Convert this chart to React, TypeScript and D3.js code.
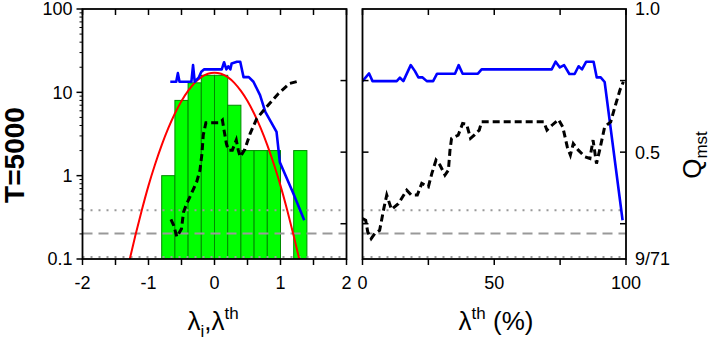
import React from 'react';
import * as d3 from 'd3';

// ---------- data ----------
const HIST_BIN_START = [-0.8, -0.6, -0.4, -0.2, 0.0, 0.2, 0.4, 0.6, 0.8, 1.0, 1.2];
const HIST_COUNTS = [1, 8, 13, 16, 16, 7, 2, 2, 2, 0, 2];
const HIST_BIN_WIDTH = 0.2;

const FIT_LAMBDA = [-1.35, -1.3, -1.2, -1.1, -1.0, -0.9, -0.8, -0.7, -0.6, -0.5, -0.4, -0.3, -0.2, -0.1, 0.0, 0.1, 0.2, 0.3, 0.4, 0.5, 0.6, 0.7, 0.8, 0.9, 1.0, 1.1, 1.2, 1.3, 1.35];
const FIT_VALUES = [0.06, 0.088, 0.19, 0.39, 0.76, 1.37, 2.33, 3.72, 5.58, 7.88, 10.4, 13.0, 15.2, 16.7, 17.2, 16.7, 15.2, 13.0, 10.4, 7.88, 5.58, 3.72, 2.33, 1.37, 0.76, 0.39, 0.19, 0.088, 0.06];

const LEFT_BLUE_LAMBDA = [-0.67, -0.58, -0.555, -0.53, -0.35, -0.325, -0.3, -0.24, -0.2, -0.16, 0.11, 0.145, 0.18, 0.21, 0.24, 0.26, 0.34, 0.39, 0.44, 0.52, 0.59, 0.69, 0.77, 0.87, 0.94, 0.99, 1.19, 1.36];
const LEFT_BLUE_Q = [0.746, 0.746, 0.776, 0.746, 0.746, 0.804, 0.746, 0.76, 0.781, 0.789, 0.789, 0.814, 0.789, 0.8, 0.789, 0.81, 0.816, 0.816, 0.762, 0.762, 0.746, 0.699, 0.641, 0.6, 0.571, 0.465, 0.358, 0.262];

const LEFT_BLACK_LAMBDA = [-0.66, -0.62, -0.57, -0.5, -0.47, -0.43, -0.35, -0.27, -0.22, -0.19, -0.17, -0.13, 0.0, 0.08, 0.12, 0.14, 0.18, 0.21, 0.27, 0.33, 0.36, 0.39, 0.46, 0.54, 0.64, 0.77, 0.97, 1.14, 1.27];
const LEFT_BLACK_Q = [0.265, 0.245, 0.204, 0.232, 0.29, 0.315, 0.355, 0.396, 0.437, 0.495, 0.56, 0.603, 0.603, 0.603, 0.612, 0.583, 0.53, 0.507, 0.507, 0.542, 0.507, 0.484, 0.51, 0.565, 0.617, 0.653, 0.705, 0.74, 0.748];

const RIGHT_BLUE_PCT = [0, 2.5, 3.8, 13, 14.2, 15.5, 18.3, 19.9, 21.2, 22.8, 24.4, 26.8, 28.3, 35.1, 36.5, 38, 43.8, 45.2, 71.8, 73.3, 74.9, 76.5, 78.5, 80.5, 82, 83.3, 84.9, 87.7, 88.9, 90.4, 91.9, 98.7];
const RIGHT_BLUE_Q = [0.748, 0.775, 0.748, 0.748, 0.76, 0.748, 0.804, 0.783, 0.761, 0.761, 0.748, 0.748, 0.774, 0.774, 0.804, 0.774, 0.774, 0.789, 0.789, 0.816, 0.796, 0.804, 0.773, 0.773, 0.8, 0.789, 0.816, 0.816, 0.761, 0.761, 0.745, 0.262];

const RIGHT_BLACK_PCT = [0, 1.2, 2, 3.3, 4.7, 6.5, 8.2, 9.2, 11, 13.6, 16.8, 18.5, 20.8, 22.5, 25, 26.3, 27.9, 29.4, 31.3, 32.6, 33.2, 33.8, 36.3, 38, 39.5, 41, 42.5, 44.3, 45.2, 68.8, 70, 71.9, 74.4, 76, 77.7, 78.9, 80, 81.9, 84.4, 86.3, 87.5, 88.8, 90, 91.9, 94.2, 95.8, 97.7, 99];
const RIGHT_BLACK_Q = [0.268, 0.262, 0.221, 0.198, 0.216, 0.227, 0.308, 0.35, 0.3, 0.32, 0.367, 0.35, 0.35, 0.391, 0.379, 0.425, 0.472, 0.455, 0.42, 0.437, 0.507, 0.548, 0.559, 0.6, 0.598, 0.548, 0.56, 0.577, 0.606, 0.606, 0.577, 0.594, 0.614, 0.588, 0.519, 0.49, 0.53, 0.507, 0.484, 0.478, 0.542, 0.46, 0.507, 0.588, 0.606, 0.658, 0.717, 0.746];

const REF_DOTTED_HI = 0.297;
const REF_DASHED = 0.2157;
const REF_DOTTED_LO = 0.134;

const LOG_TICKS = [0.1, 1, 10, 100];
const LOG_TICK_LABELS = ['0.1', '1', '10', '100'];
const LAMBDA_TICKS = [-2, -1.5, -1, -0.5, 0, 0.5, 1, 1.5, 2];
const LAMBDA_LABELS = [-2, -1, 0, 1, 2];
const PCT_TICKS = [0, 25, 50, 75, 100];
const PCT_LABELS = [0, 50, 100];
const Q_TICKS = [0.25, 0.5, 0.75];
const Q_LABEL_VALUES = [1.0, 0.5, 9 / 71];
const Q_LABEL_TEXT = ['1.0', '0.5', '9/71'];

// ---------- layout ----------
const W = 721, H = 348;
const TOP = 9, BOT = 259;
const LX0 = 82.5, LX1 = 346.5;
const RX0 = 362.5, RX1 = 626;
const FONT = 'Liberation Sans, Arial, Helvetica, sans-serif';

export default function App() {
  const xL = d3.scaleLinear().domain([-2, 2]).range([LX0, LX1]);
  const xR = d3.scaleLinear().domain([0, 100]).range([RX0, RX1]);
  const yLog = d3.scaleLog().domain([0.1, 100]).range([BOT, TOP]);
  const yQ = d3.scaleLinear().domain([9 / 71, 1]).range([BOT, TOP]);

  const fitLine = d3.line<number>()
    .x((_, i) => xL(FIT_LAMBDA[i]))
    .y((v) => yLog(v))
    .curve(d3.curveMonotoneX);
  const lineL = (xs: number[]) => d3.line<number>()
    .x((_, i) => xL(xs[i]))
    .y((v) => yQ(v));
  const lineR = (xs: number[]) => d3.line<number>()
    .x((_, i) => xR(xs[i]))
    .y((v) => yQ(v));

  const minorLog: number[] = [];
  [0.1, 1, 10].forEach((d) => {
    for (let k = 2; k <= 9; k++) minorLog.push(d * k);
  });

  const axisStroke = 1.8;
  const tickLen = 6;

  return (
    <svg width={W} height={H} style={{ position: 'absolute', left: 0, top: 0, background: '#fff' }}
      fontFamily={FONT}>
      <defs>
        <clipPath id="clipL">
          <rect x={LX0} y={TOP} width={LX1 - LX0} height={BOT - TOP} />
        </clipPath>
        <clipPath id="clipR">
          <rect x={RX0} y={TOP} width={RX1 - RX0} height={BOT - TOP} />
        </clipPath>
      </defs>

      {/* ---------- left panel ---------- */}
      <g clipPath="url(#clipL)">
        {HIST_COUNTS.map((c, i) => c > 0 ? (
          <rect key={i}
            x={xL(HIST_BIN_START[i])}
            y={yLog(c)}
            width={xL(HIST_BIN_START[i] + HIST_BIN_WIDTH) - xL(HIST_BIN_START[i])}
            height={yLog(0.1) - yLog(c)}
            fill="#00ff00" stroke="#008a00" strokeWidth={1} />
        ) : null)}
        {[REF_DOTTED_HI, REF_DOTTED_LO].map((v, i) => (
          <line key={'d' + i} x1={LX0} x2={LX1} y1={yQ(v)} y2={yQ(v)} stroke="#999" strokeWidth={2} strokeDasharray="2,6" />
        ))}
        <line x1={LX0} x2={LX1} y1={yQ(REF_DASHED)} y2={yQ(REF_DASHED)} stroke="#999" strokeWidth={2} strokeDasharray="10,6" />
        <path d={fitLine(FIT_VALUES) || ''} fill="none" stroke="#ff0000" strokeWidth={2} />
        <path d={lineL(LEFT_BLUE_LAMBDA)(LEFT_BLUE_Q) || ''} fill="none" stroke="#0000ff" strokeWidth={2.6} strokeLinejoin="round" />
        <path d={lineL(LEFT_BLACK_LAMBDA)(LEFT_BLACK_Q) || ''} fill="none" stroke="#000" strokeWidth={3} strokeDasharray="7,4" />
      </g>

      {/* ---------- right panel ---------- */}
      <g clipPath="url(#clipR)">
        {[REF_DOTTED_HI, REF_DOTTED_LO].map((v, i) => (
          <line key={'rd' + i} x1={RX0} x2={RX1} y1={yQ(v)} y2={yQ(v)} stroke="#999" strokeWidth={2} strokeDasharray="2,6" />
        ))}
        <line x1={RX0} x2={RX1} y1={yQ(REF_DASHED)} y2={yQ(REF_DASHED)} stroke="#999" strokeWidth={2} strokeDasharray="10,6" />
        <path d={lineR(RIGHT_BLUE_PCT)(RIGHT_BLUE_Q) || ''} fill="none" stroke="#0000ff" strokeWidth={2.6} strokeLinejoin="round" />
        <path d={lineR(RIGHT_BLACK_PCT)(RIGHT_BLACK_Q) || ''} fill="none" stroke="#000" strokeWidth={3} strokeDasharray="7,4" />
      </g>

      {/* ---------- frames ---------- */}
      <rect x={LX0} y={TOP} width={LX1 - LX0} height={BOT - TOP} fill="none" stroke="#000" strokeWidth={axisStroke} />
      <rect x={RX0} y={TOP} width={RX1 - RX0} height={BOT - TOP} fill="none" stroke="#000" strokeWidth={axisStroke} />

      {/* left log axis ticks */}
      {LOG_TICKS.map((v) => (
        <line key={'lt' + v} x1={LX0} x2={LX0 - tickLen} y1={yLog(v)} y2={yLog(v)} stroke="#000" strokeWidth={1.5} />
      ))}
      {minorLog.map((v, i) => (
        <line key={'lm' + i} x1={LX0} x2={LX0 - 3} y1={yLog(v)} y2={yLog(v)} stroke="#000" strokeWidth={1} />
      ))}
      {LOG_TICKS.map((v, i) => (
        <text key={'ll' + v} x={LX0 - 10} y={yLog(v)} dy="0.36em" textAnchor="end" fontSize={18}>{LOG_TICK_LABELS[i]}</text>
      ))}

      {/* lambda ticks */}
      {LAMBDA_TICKS.map((v) => (
        <g key={'xt' + v}>
          <line x1={xL(v)} x2={xL(v)} y1={BOT} y2={BOT + tickLen} stroke="#000" strokeWidth={1.5} />
          <line x1={xL(v)} x2={xL(v)} y1={TOP} y2={TOP + tickLen} stroke="#000" strokeWidth={1.5} />
        </g>
      ))}
      {LAMBDA_LABELS.map((v) => (
        <text key={'xl' + v} x={xL(v)} y={289} textAnchor="middle" fontSize={18}>{v < 0 ? '-' + Math.abs(v) : String(v)}</text>
      ))}

      {/* pct ticks */}
      {PCT_TICKS.map((v) => (
        <g key={'pt' + v}>
          <line x1={xR(v)} x2={xR(v)} y1={BOT} y2={BOT + tickLen} stroke="#000" strokeWidth={1.5} />
          <line x1={xR(v)} x2={xR(v)} y1={TOP} y2={TOP + tickLen} stroke="#000" strokeWidth={1.5} />
        </g>
      ))}
      {PCT_LABELS.map((v) => (
        <text key={'pl' + v} x={xR(v)} y={289} textAnchor="middle" fontSize={18}>{String(v)}</text>
      ))}

      {/* Q ticks (inward) */}
      {Q_TICKS.map((v) => (
        <g key={'qt' + v}>
          <line x1={LX1} x2={LX1 - tickLen} y1={yQ(v)} y2={yQ(v)} stroke="#000" strokeWidth={1.5} />
          <line x1={RX0} x2={RX0 + tickLen} y1={yQ(v)} y2={yQ(v)} stroke="#000" strokeWidth={1.5} />
          <line x1={RX1} x2={RX1 - tickLen} y1={yQ(v)} y2={yQ(v)} stroke="#000" strokeWidth={1.5} />
        </g>
      ))}
      {Q_LABEL_VALUES.map((v, i) => (
        <text key={'ql' + i} x={RX1 + 9} y={yQ(v)} dy="0.36em" textAnchor="start" fontSize={18}>{Q_LABEL_TEXT[i]}</text>
      ))}

      {/* titles */}
      <text x={213} y={330} textAnchor="middle" fontSize={26}>
        λ<tspan fontSize={17} dy={7}>i</tspan><tspan dy={-7}>,λ</tspan><tspan fontSize={17} dy={-11}>th</tspan>
      </text>
      <text x={496} y={330} textAnchor="middle" fontSize={26}>
        λ<tspan fontSize={17} dy={-11}>th</tspan><tspan dy={11}> (%)</tspan>
      </text>
      <text transform="translate(24,155) rotate(-90)" textAnchor="middle" fontSize={28} fontWeight="bold">T=5000</text>
      <text transform="translate(701,155) rotate(-90)" textAnchor="middle" fontSize={26}>
        Q<tspan fontSize={17} dy={6}>mst</tspan>
      </text>
    </svg>
  );
}
